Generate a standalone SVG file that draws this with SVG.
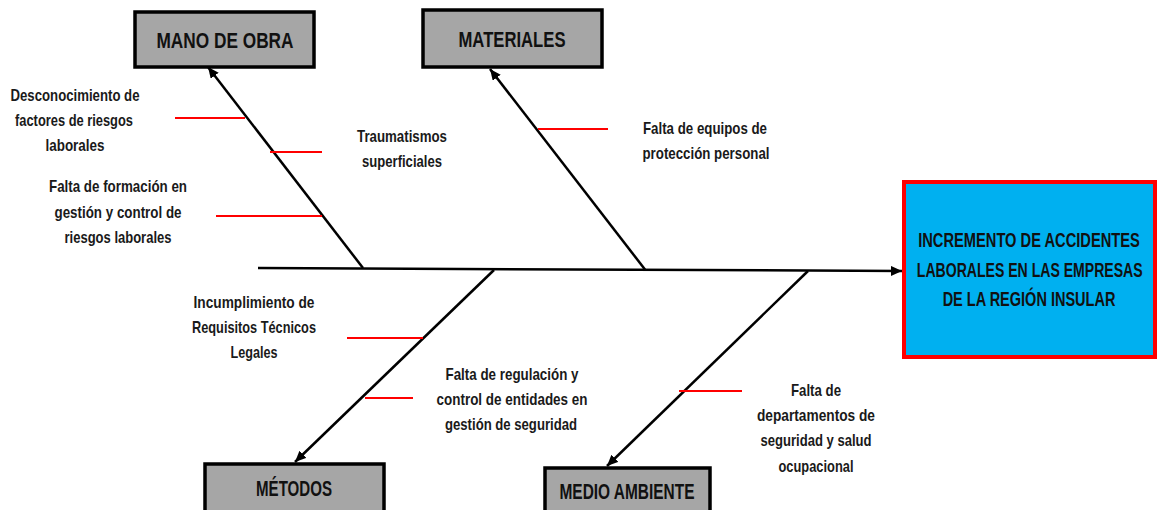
<svg xmlns="http://www.w3.org/2000/svg" width="1158" height="510" viewBox="0 0 1158 510">
<style>
.t{font-family:"Liberation Sans",Arial,sans-serif;font-weight:bold;font-size:17px;fill:#1a1a1a;text-anchor:middle}
.h{font-family:"Liberation Sans",Arial,sans-serif;font-weight:bold;font-size:22px;fill:#111;text-anchor:middle}
.e{font-family:"Liberation Sans",Arial,sans-serif;font-weight:bold;font-size:21px;fill:#111;text-anchor:middle}
.cat{fill:#a6a6a6;stroke:#000;stroke-width:3.5}
.bone{stroke:#000;stroke-width:2.5;fill:none}
.sub{stroke:#ff0000;stroke-width:2;fill:none}
</style>
<defs>
<marker id="ah" markerUnits="userSpaceOnUse" markerWidth="12" markerHeight="10" refX="11" refY="5" orient="auto">
<path d="M0,0 L11,5 L0,10 z" fill="#000"/>
</marker>
</defs>
<rect width="1158" height="510" fill="#fff"/>
<g id="connectors">
<line class="bone" x1="258" y1="268" x2="902" y2="271" marker-end="url(#ah)"/>
<line class="bone" x1="363" y1="268" x2="208" y2="67" marker-end="url(#ah)"/>
<line class="bone" x1="645" y1="269.5" x2="490" y2="69" marker-end="url(#ah)"/>
<line class="bone" x1="494" y1="270" x2="295" y2="462" marker-end="url(#ah)"/>
<line class="bone" x1="808" y1="271" x2="607" y2="466" marker-end="url(#ah)"/>
<line class="sub" x1="175" y1="118" x2="245" y2="118"/>
<line class="sub" x1="270" y1="152" x2="322" y2="152"/>
<line class="sub" x1="216" y1="216" x2="322" y2="216"/>
<line class="sub" x1="538" y1="129" x2="608" y2="129"/>
<line class="sub" x1="347" y1="338" x2="423" y2="338"/>
<line class="sub" x1="365" y1="398" x2="413" y2="398"/>
<line class="sub" x1="679" y1="391" x2="742" y2="391"/>
</g>
<g id="mano-de-obra">
<rect class="cat" x="135" y="12" width="179" height="55"/>
<text class="h" x="225" y="48" textLength="137" lengthAdjust="spacingAndGlyphs">MANO DE OBRA</text>
</g>
<g id="materiales">
<rect class="cat" x="423" y="10" width="179" height="57"/>
<text class="h" x="512" y="47" textLength="107" lengthAdjust="spacingAndGlyphs">MATERIALES</text>
</g>
<g id="metodos">
<rect class="cat" x="205" y="464" width="179" height="60"/>
<text class="h" x="294" y="496" textLength="76" lengthAdjust="spacingAndGlyphs">MÉTODOS</text>
</g>
<g id="medio-ambiente">
<rect class="cat" x="545" y="468" width="165" height="60"/>
<text class="h" x="627" y="499" textLength="135" lengthAdjust="spacingAndGlyphs">MEDIO AMBIENTE</text>
</g>
<g id="efecto">
<rect x="904" y="182" width="251" height="175" fill="#00b0f0" stroke="#ff0000" stroke-width="4"/>
<g transform="translate(1029,0) scale(0.68,1)">
<text class="e" x="0" y="247" textLength="326" lengthAdjust="spacingAndGlyphs">INCREMENTO DE ACCIDENTES</text>
<text class="e" x="1" y="277" textLength="332" lengthAdjust="spacingAndGlyphs">LABORALES EN LAS EMPRESAS</text>
<text class="e" x="0" y="306" textLength="254" lengthAdjust="spacingAndGlyphs">DE LA REGIÓN INSULAR</text>
</g>
</g>
<g id="c1">
<text class="t" x="75" y="101" textLength="129" lengthAdjust="spacingAndGlyphs">Desconocimiento de</text>
<text class="t" x="74" y="126" textLength="118" lengthAdjust="spacingAndGlyphs">factores de riesgos</text>
<text class="t" x="75" y="151" textLength="59" lengthAdjust="spacingAndGlyphs">laborales</text>
</g>
<g id="c2">
<text class="t" x="402" y="142" textLength="90" lengthAdjust="spacingAndGlyphs">Traumatismos</text>
<text class="t" x="402" y="167" textLength="80" lengthAdjust="spacingAndGlyphs">superficiales</text>
</g>
<g id="c3">
<text class="t" x="118" y="192" textLength="138" lengthAdjust="spacingAndGlyphs">Falta de formación en</text>
<text class="t" x="118" y="218" textLength="127" lengthAdjust="spacingAndGlyphs">gestión y control de</text>
<text class="t" x="118" y="243" textLength="107" lengthAdjust="spacingAndGlyphs">riesgos laborales</text>
</g>
<g id="c4">
<text class="t" x="705" y="134" textLength="124" lengthAdjust="spacingAndGlyphs">Falta de equipos de</text>
<text class="t" x="706" y="159" textLength="127" lengthAdjust="spacingAndGlyphs">protección personal</text>
</g>
<g id="c5">
<text class="t" x="254" y="308" textLength="121" lengthAdjust="spacingAndGlyphs">Incumplimiento de</text>
<text class="t" x="254" y="333" textLength="124" lengthAdjust="spacingAndGlyphs">Requisitos Técnicos</text>
<text class="t" x="254" y="358" textLength="47" lengthAdjust="spacingAndGlyphs">Legales</text>
</g>
<g id="c6">
<text class="t" x="512" y="380" textLength="133" lengthAdjust="spacingAndGlyphs">Falta de regulación y</text>
<text class="t" x="512" y="405" textLength="151" lengthAdjust="spacingAndGlyphs">control de entidades en</text>
<text class="t" x="511" y="430" textLength="132" lengthAdjust="spacingAndGlyphs">gestión de seguridad</text>
</g>
<g id="c7">
<text class="t" x="816" y="396" textLength="50" lengthAdjust="spacingAndGlyphs">Falta de</text>
<text class="t" x="816" y="421" textLength="118" lengthAdjust="spacingAndGlyphs">departamentos de</text>
<text class="t" x="816" y="446" textLength="111" lengthAdjust="spacingAndGlyphs">seguridad y salud</text>
<text class="t" x="816" y="472" textLength="75" lengthAdjust="spacingAndGlyphs">ocupacional</text>
</g>
</svg>
